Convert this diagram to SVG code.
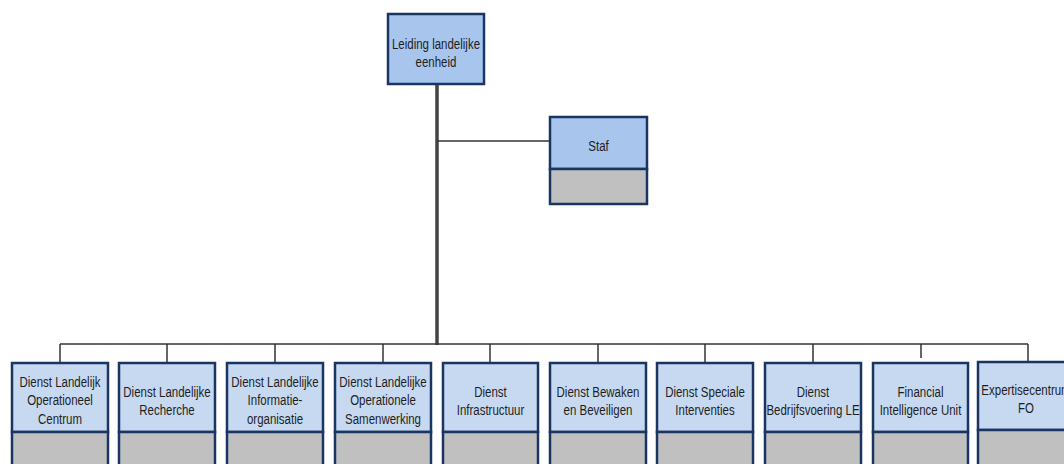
<svg xmlns="http://www.w3.org/2000/svg" width="1064" height="464" viewBox="0 0 1064 464">
<style>
.top{fill:#a8c5ee;stroke:#1b3563;stroke-width:2.5}
.sub{fill:#c6d9f1;stroke:#1b3563;stroke-width:2.5}
.gray{fill:#c0c0c0;stroke:#1b3563;stroke-width:2.5}
.t{font-family:"Liberation Sans",Arial,sans-serif;font-size:14px;fill:#1e1e1e;text-anchor:middle}
.ln{stroke:#333;stroke-width:1.5;fill:none}
.trunk{stroke:#444;stroke-width:3.5;fill:none}
</style>
<rect width="1064" height="464" fill="#fff"/>
<g id="connectors">
<line class="trunk" x1="437" y1="84" x2="437" y2="345"/>
<line class="ln" x1="437" y1="141" x2="550" y2="141"/>
<line class="ln" x1="60" y1="344" x2="1028" y2="344"/>
<line class="ln" x1="60" y1="344" x2="60" y2="363"/>
<line class="ln" x1="167" y1="344" x2="167" y2="363"/>
<line class="ln" x1="275" y1="344" x2="275" y2="363"/>
<line class="ln" x1="383" y1="344" x2="383" y2="363"/>
<line class="ln" x1="490" y1="344" x2="490" y2="363"/>
<line class="ln" x1="598" y1="344" x2="598" y2="363"/>
<line class="ln" x1="705" y1="344" x2="705" y2="363"/>
<line class="ln" x1="813" y1="344" x2="813" y2="363"/>
<line class="ln" x1="921" y1="344" x2="921" y2="358"/>
<line class="ln" x1="1028" y1="344" x2="1028" y2="362"/>
</g>
<g id="leiding">
<rect class="top" x="388" y="14" width="96" height="70"/>
<g transform="translate(436,0) scale(0.82,1)"><text class="t" x="0" y="49">Leiding landelijke</text><text class="t" x="0" y="67">eenheid</text></g>
</g>
<g id="staf">
<rect class="top" x="550" y="117" width="97" height="52"/>
<rect class="gray" x="550" y="169" width="97" height="35"/>
<g transform="translate(598.5,0) scale(0.82,1)"><text class="t" x="0" y="151">Staf</text></g>
</g>
<g id="dloc">
<rect class="sub" x="12" y="363" width="96" height="69"/><rect class="gray" x="12" y="432" width="96" height="40"/>
<g transform="translate(60,0) scale(0.82,1)"><text class="t" x="0" y="387">Dienst Landelijk</text><text class="t" x="0" y="405.5">Operationeel</text><text class="t" x="0" y="424">Centrum</text></g>
</g>
<g id="dlr">
<rect class="sub" x="119" y="363" width="96" height="69"/><rect class="gray" x="119" y="432" width="96" height="40"/>
<g transform="translate(167,0) scale(0.82,1)"><text class="t" x="0" y="397">Dienst Landelijke</text><text class="t" x="0" y="415">Recherche</text></g>
</g>
<g id="dlio">
<rect class="sub" x="227" y="363" width="96" height="69"/><rect class="gray" x="227" y="432" width="96" height="40"/>
<g transform="translate(275,0) scale(0.82,1)"><text class="t" x="0" y="387">Dienst Landelijke</text><text class="t" x="0" y="405.5">Informatie-</text><text class="t" x="0" y="424">organisatie</text></g>
</g>
<g id="dlos">
<rect class="sub" x="335" y="363" width="96" height="69"/><rect class="gray" x="335" y="432" width="96" height="40"/>
<g transform="translate(383,0) scale(0.82,1)"><text class="t" x="0" y="387">Dienst Landelijke</text><text class="t" x="0" y="405.5">Operationele</text><text class="t" x="0" y="424">Samenwerking</text></g>
</g>
<g id="di">
<rect class="sub" x="443" y="363" width="95" height="69"/><rect class="gray" x="443" y="432" width="95" height="40"/>
<g transform="translate(490.5,0) scale(0.82,1)"><text class="t" x="0" y="397">Dienst</text><text class="t" x="0" y="415">Infrastructuur</text></g>
</g>
<g id="dbb">
<rect class="sub" x="550" y="363" width="96" height="69"/><rect class="gray" x="550" y="432" width="96" height="40"/>
<g transform="translate(598,0) scale(0.82,1)"><text class="t" x="0" y="397">Dienst Bewaken</text><text class="t" x="0" y="415">en Beveiligen</text></g>
</g>
<g id="dsi">
<rect class="sub" x="657" y="363" width="96" height="69"/><rect class="gray" x="657" y="432" width="96" height="40"/>
<g transform="translate(705,0) scale(0.82,1)"><text class="t" x="0" y="397">Dienst Speciale</text><text class="t" x="0" y="415">Interventies</text></g>
</g>
<g id="dbv">
<rect class="sub" x="765" y="363" width="96" height="69"/><rect class="gray" x="765" y="432" width="96" height="40"/>
<g transform="translate(813,0) scale(0.82,1)"><text class="t" x="0" y="397">Dienst</text><text class="t" x="0" y="415">Bedrijfsvoering LE</text></g>
</g>
<g id="fiu">
<rect class="sub" x="873" y="363" width="95" height="69"/><rect class="gray" x="873" y="432" width="95" height="40"/>
<g transform="translate(920.5,0) scale(0.82,1)"><text class="t" x="0" y="397">Financial</text><text class="t" x="0" y="415">Intelligence Unit</text></g>
</g>
<g id="ecfo">
<rect class="sub" x="978" y="362" width="96" height="68"/><rect class="gray" x="978" y="430" width="96" height="42"/>
<g transform="translate(1026,0) scale(0.82,1)"><text class="t" x="0" y="395">Expertisecentrum</text><text class="t" x="0" y="413">FO</text></g>
</g>
</svg>
